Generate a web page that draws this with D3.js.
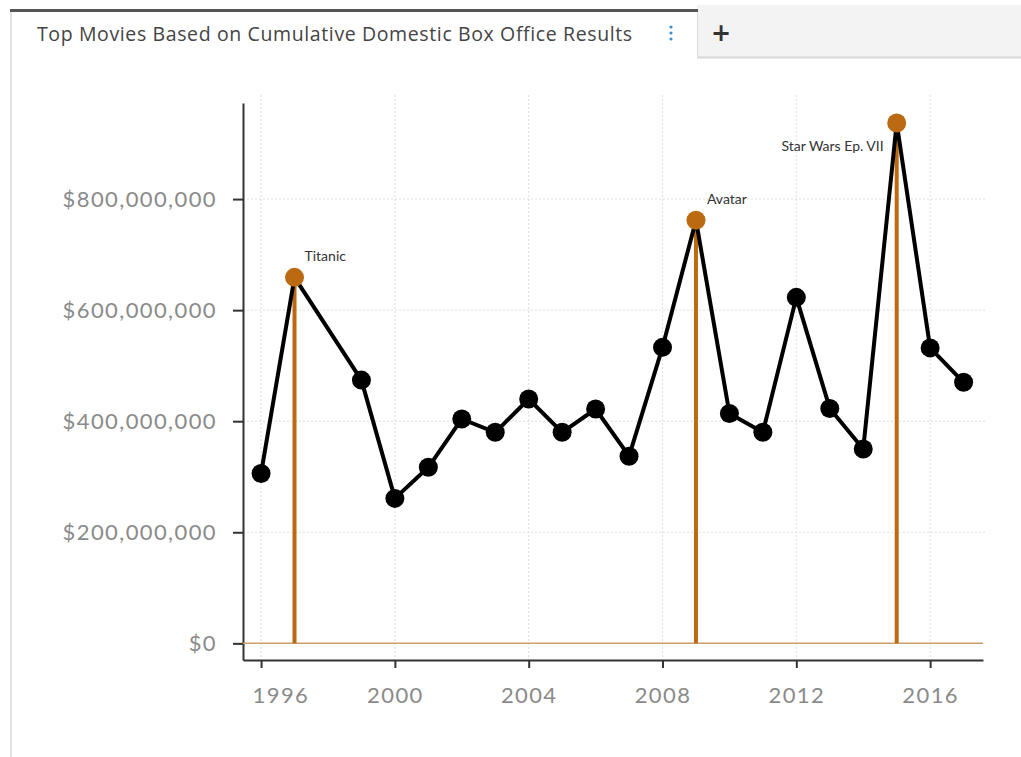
<!DOCTYPE html>
<html>
<head>
<meta charset="utf-8">
<script src="https://cdn.jsdelivr.net/npm/d3@7"></script>
<style>
  body { margin: 0; background: #fff; }
  svg { display: block; }
</style>
</head>
<body>
<div id="chart"></div>
<script>
var svg_width = 1021;
var svg_height = 757;

// data
var years = [1996, 1997, 1999, 2000, 2001, 2002, 2003, 2004, 2005, 2006, 2007,
             2008, 2009, 2010, 2011, 2012, 2013, 2014, 2015, 2016, 2017];
var gross = [306e6, 659e6, 474e6, 261e6, 317e6, 404e6, 380e6, 440e6, 380e6, 422e6, 337e6,
             533e6, 762e6, 414e6, 380e6, 623e6, 423e6, 350e6, 937e6, 532e6, 470e6];
var topYears = [1997, 2009, 2015];
var topTitles = ["Titanic", "Avatar", "Star Wars Ep. VII"];
var xTicks = [1996, 2000, 2004, 2008, 2012, 2016];
var yTicks = [0, 200e6, 400e6, 600e6, 800e6];
var title = "Top Movies Based on Cumulative Domestic Box Office Results";

var plot = ({left: 243, right: 983, top: 103, bottom: 660});
var ORANGE = "#bb6a12";

var data = years.map((d, i) => ({year: d, value: gross[i]}));
var tops = topYears.map((d, i) => ({year: d, title: topTitles[i], value: gross[years.indexOf(d)]}));

var x = d3.scaleLinear()
    .domain([1995.46, 2017.58])
    .range([plot.left, plot.right]);

var y = d3.scaleLinear()
    .domain([-30e6, 973e6])
    .range([plot.bottom, plot.top]);

const svg = d3.select("#chart")
    .append("svg")
    .attr("width", svg_width)
    .attr("height", svg_height);

// tab strip
svg.append("rect")
    .attr("x", 697).attr("y", 5).attr("width", 324).attr("height", 52)
    .attr("fill", "#f3f3f3");
svg.append("line")
    .attr("x1", 697).attr("x2", 1021).attr("y1", 57.5).attr("y2", 57.5)
    .attr("stroke", "#d8d8d8").attr("stroke-width", 2);
svg.append("line")
    .attr("x1", 697.5).attr("x2", 697.5).attr("y1", 10).attr("y2", 57)
    .attr("stroke", "#dcdcdc");
svg.append("line")
    .attr("x1", 11).attr("x2", 11).attr("y1", 10).attr("y2", svg_height)
    .attr("stroke", "#e2e2e2").attr("stroke-width", 2);
svg.append("rect")
    .attr("x", 10).attr("y", 9).attr("width", 688).attr("height", 3)
    .attr("fill", "#555");
svg.append("text")
    .attr("x", 37).attr("y", 41)
    .attr("font-family", "Open Sans, sans-serif")
    .attr("font-size", "19.5px")
    .attr("letter-spacing", "0.62px")
    .attr("fill", "#444")
    .text(title);
svg.append("g")
    .selectAll("circle")
    .data([27, 33, 39])
    .join("circle")
      .attr("cx", 671).attr("cy", d => d).attr("r", 1.6)
      .attr("fill", "#3d8fd1");
svg.append("text")
    .attr("x", 721).attr("y", 41)
    .attr("text-anchor", "middle")
    .attr("font-family", "DejaVu Sans, sans-serif")
    .attr("font-size", "24px")
    .attr("font-weight", "bold")
    .attr("fill", "#333")
    .text("+");

// grid
var grid = svg.append("g")
    .attr("stroke", "#dedede")
    .attr("stroke-dasharray", "2,2");
grid.selectAll(".vgrid")
    .data(xTicks)
    .join("line")
      .attr("class", "vgrid")
      .attr("x1", d => x(d)).attr("x2", d => x(d))
      .attr("y1", plot.top - 8).attr("y2", plot.bottom);
grid.selectAll(".hgrid")
    .data(yTicks.slice(1))
    .join("line")
      .attr("class", "hgrid")
      .attr("x1", plot.left).attr("x2", plot.right + 2)
      .attr("y1", d => y(d)).attr("y2", d => y(d));

// axes
var xAxis = g => g
    .attr("transform", `translate(0,${plot.bottom})`)
    .call(d3.axisBottom(x).tickValues(xTicks).tickFormat(d3.format("d")).tickSize(8).tickPadding(19).tickSizeOuter(0))
    .call(g => g.select(".domain").attr("stroke", "#333").attr("stroke-width", 2))
    .call(g => g.selectAll(".tick line").attr("stroke", "#333").attr("stroke-width", 2))
    // first label is pushed right so it does not hang past the axis
    .call(g => g.selectAll(".tick text").filter(d => d === xTicks[0]).attr("text-anchor", "start").attr("x", -9));

var yAxis = g => g
    .attr("transform", `translate(${plot.left},0)`)
    .call(d3.axisLeft(y).tickValues(yTicks).tickFormat(d => "$" + d3.format(",")(d)).tickSize(10).tickPadding(16).tickSizeOuter(0))
    .call(g => g.select(".domain").attr("stroke", "#333").attr("stroke-width", 2))
    .call(g => g.selectAll(".tick line").attr("stroke", "#333").attr("stroke-width", 2));

svg.append("g").call(xAxis);
svg.append("g").call(yAxis);
svg.selectAll(".tick text")
    .attr("font-family", "Lato, sans-serif")
    .attr("font-size", "22px")
    .attr("letter-spacing", "1.4px")
    .attr("fill", "#8a8a8a");

// zero baseline
svg.append("line")
    .attr("x1", plot.left).attr("x2", plot.right)
    .attr("y1", y(0)).attr("y2", y(0))
    .attr("stroke", "#c9a06a")
    .attr("stroke-width", 1.5);

// drop lines for the top movies
svg.append("g")
    .selectAll("line")
    .data(tops)
    .join("line")
      .attr("x1", d => x(d.year)).attr("x2", d => x(d.year))
      .attr("y1", y(0)).attr("y2", d => y(d.value))
      .attr("stroke", ORANGE)
      .attr("stroke-width", 4);

// the series line
svg.append("path")
    .datum(data)
    .attr("fill", "none")
    .attr("stroke", "#000")
    .attr("stroke-width", 4)
    .attr("stroke-linejoin", "round")
    .attr("d", d3.line().x(d => x(d.year)).y(d => y(d.value)));

svg.append("g")
    .selectAll("circle")
    .data(data.filter(d => topYears.indexOf(d.year) < 0))
    .join("circle")
      .attr("cx", d => x(d.year))
      .attr("cy", d => y(d.value))
      .attr("r", 9.5)
      .attr("fill", "#000");

svg.append("g")
    .selectAll("circle")
    .data(tops)
    .join("circle")
      .attr("cx", d => x(d.year))
      .attr("cy", d => y(d.value))
      .attr("r", 9.5)
      .attr("fill", ORANGE);

// labels
var labelShift = {"Titanic": [10, -16, "start"], "Avatar": [11, -16, "start"], "Star Wars Ep. VII": [-13, 28, "end"]};
svg.append("g")
    .selectAll("text")
    .data(tops)
    .join("text")
      .attr("x", d => x(d.year) + labelShift[d.title][0])
      .attr("y", d => y(d.value) + labelShift[d.title][1])
      .attr("text-anchor", d => labelShift[d.title][2])
      .attr("font-family", "Lato, sans-serif")
      .attr("font-size", "14px")
      .attr("fill", "#333")
      .text(d => d.title);
</script>
</body>
</html>
